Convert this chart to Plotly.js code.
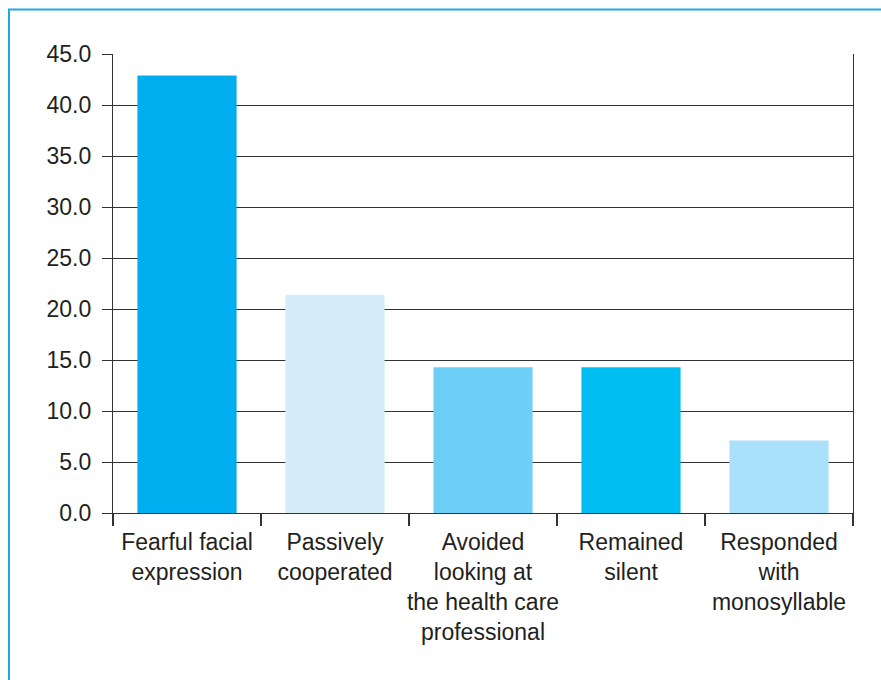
<!DOCTYPE html>
<html>
<head>
<meta charset="utf-8">
<script src="https://cdn.plot.ly/plotly-3.0.1.min.js"></script>
<style>
  html, body { margin: 0; padding: 0; background: #ffffff; }
  #chart { width: 881px; height: 680px; }
</style>
</head>
<body>
<div id="chart"></div>
<script>
// Reactions observed, percent of patients
const categories = [
  "Fearful facial<br>expression",
  "Passively<br>cooperated",
  "Avoided<br>looking at<br>the health care<br>professional",
  "Remained<br>silent",
  "Responded<br>with<br>monosyllable"
];
const percentages = [42.9, 21.4, 14.3, 14.3, 7.1];
const barColors = ["#00AEEF", "#D6ECF9", "#6DCFF6", "#00BEF2", "#AAE0FA"];
const yTickValues = [0, 5, 10, 15, 20, 25, 30, 35, 40, 45];

const ink = "#231F20";
const rule = "#333333";
const frameBlue = "#1EA8E0";

const trace = {
  type: "bar",
  x: categories,
  y: percentages,
  marker: { color: barColors, line: { width: 0 } },
  hoverinfo: "x+y"
};

// Plot area spans 113..853 px horizontally and 54..513 px vertically
const plotL = 113, plotR = 853, plotT = 54, plotB = 513, W = 881, H = 680;
const px = v => (v - plotL) / (plotR - plotL);
const py = v => (plotB - v) / (plotB - plotT);

const layout = {
  width: W,
  height: H,
  margin: { l: plotL, r: W - plotR, t: plotT, b: H - plotB, pad: 0 },
  paper_bgcolor: "#ffffff",
  plot_bgcolor: "#ffffff",
  showlegend: false,
  bargap: 0.33,
  font: { family: "Liberation Sans, Arial, sans-serif", size: 23, color: ink },
  xaxis: {
    type: "category",
    tickson: "boundaries",
    ticks: "outside",
    ticklen: 12,
    tickwidth: 1.2,
    tickcolor: rule,
    showline: true,
    linecolor: rule,
    linewidth: 1.2,
    mirror: false,
    showgrid: false,
    tickangle: 0,
    ticklabelstandoff: 8,
    tickfont: { size: 23, color: ink }
  },
  yaxis: {
    range: [0, 45],
    tickvals: yTickValues,
    tickformat: ".1f",
    ticks: "outside",
    ticklen: 10,
    tickwidth: 1,
    tickcolor: rule,
    showline: true,
    linecolor: rule,
    linewidth: 1.2,
    mirror: true,
    showgrid: true,
    gridcolor: rule,
    gridwidth: 1,
    zeroline: false,
    ticklabelstandoff: 6,
    tickfont: { size: 23, color: ink }
  },
  shapes: [
    // outer frame: left and top edges
    { type: "line", xref: "paper", yref: "paper",
      x0: px(9), x1: px(9), y0: py(H + 2), y1: py(9),
      line: { color: frameBlue, width: 2 } },
    { type: "line", xref: "paper", yref: "paper",
      x0: px(8), x1: px(W + 2), y0: py(9.5), y1: py(9.5),
      line: { color: frameBlue, width: 2 } }
  ]
};

Plotly.newPlot("chart", [trace], layout, { displayModeBar: false, staticPlot: true });
</script>
</body>
</html>
